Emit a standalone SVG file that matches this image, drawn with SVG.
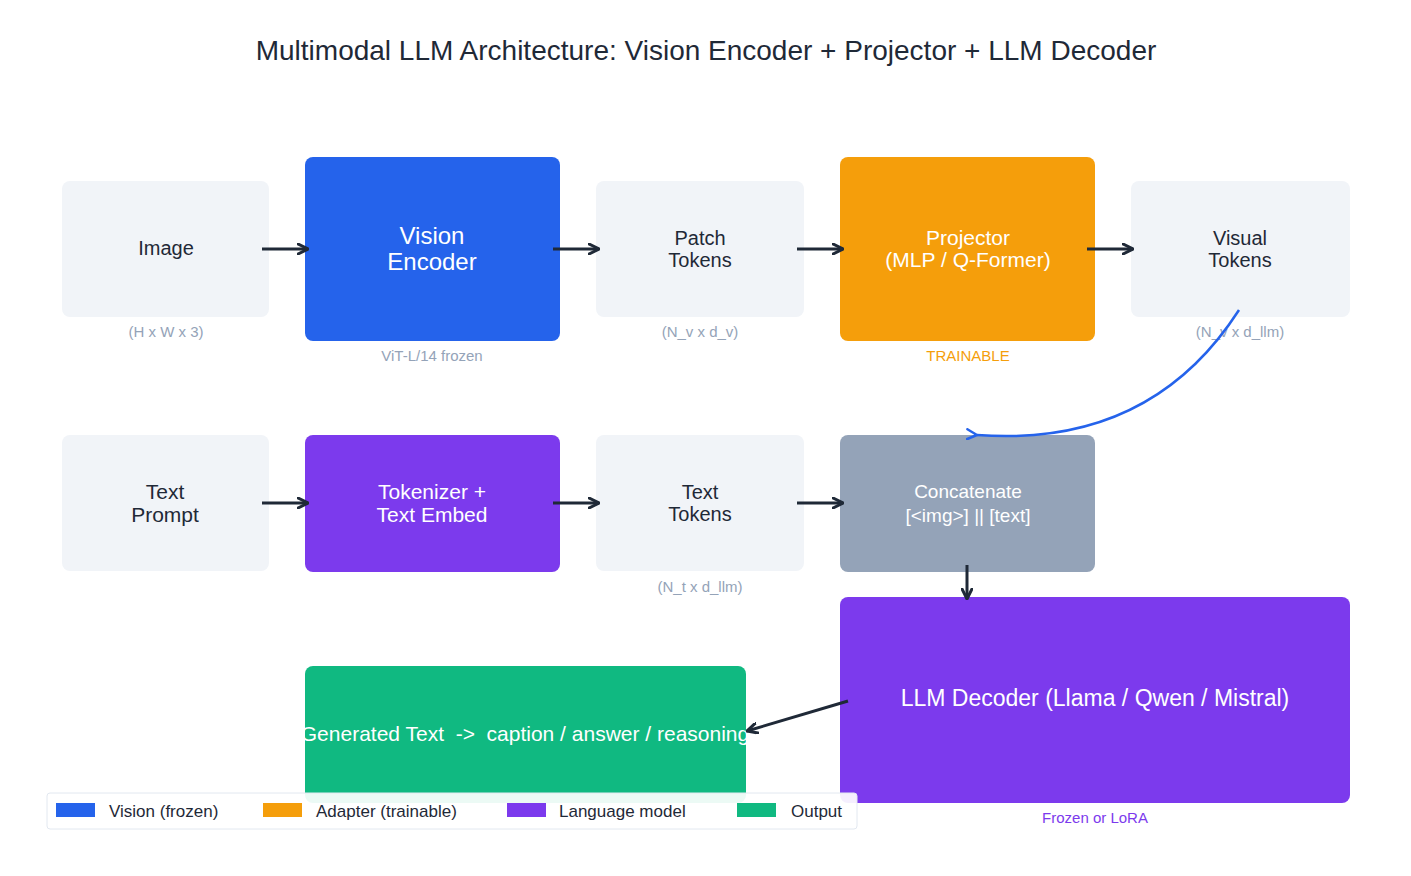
<svg xmlns="http://www.w3.org/2000/svg" width="1411" height="876" viewBox="0 0 1411 876">
<style>
text{font-family:"Liberation Sans",Arial,sans-serif}
.light{fill:#f1f4f8}
.dk{fill:#1f2937;font-size:20px}
.wt{fill:#ffffff;font-size:20px}
.sub{fill:#94a3b8;font-size:15px}
.ar{stroke:#1f2937;stroke-width:3;fill:none;marker-end:url(#ah)}
.leg{fill:#1f2937;font-size:17px}
</style>
<defs>
<marker id="ah" viewBox="0 0 12 12" refX="11" refY="6" markerWidth="12" markerHeight="12" markerUnits="userSpaceOnUse" orient="auto"><path d="M1,1 L11,6 L1,11" fill="none" stroke="#1f2937" stroke-width="3" stroke-linecap="round"/></marker>
<marker id="ahb" viewBox="0 0 12 12" refX="1" refY="6" markerWidth="12" markerHeight="12" markerUnits="userSpaceOnUse" orient="auto"><path d="M11,1 L1,6 L11,11" fill="none" stroke="#2563eb" stroke-width="2.5" stroke-linecap="round"/></marker>
<clipPath id="gc"><rect x="305" y="666" width="441" height="137"/></clipPath>
</defs>
<rect width="1411" height="876" fill="#fff"/>
<text x="706" y="60" text-anchor="middle" font-size="28" fill="#1f2937">Multimodal LLM Architecture: Vision Encoder + Projector + LLM Decoder</text>

<g id="image"><rect class="light" x="62" y="181" width="207" height="136" rx="8"/><text class="dk" x="166" y="255" text-anchor="middle">Image</text><text class="sub" x="166" y="337" text-anchor="middle">(H x W x 3)</text></g>
<g id="vision-encoder"><rect fill="#2563eb" x="305" y="157" width="255" height="184" rx="8"/><text class="wt" font-size="24" x="432" y="244" text-anchor="middle" style="font-size:24px">Vision</text><text class="wt" x="432" y="270" text-anchor="middle" style="font-size:24px">Encoder</text><text class="sub" x="432" y="361" text-anchor="middle">ViT-L/14 frozen</text></g>
<g id="patch-tokens"><rect class="light" x="596" y="181" width="208" height="136" rx="8"/><text class="dk" x="700" y="245" text-anchor="middle">Patch</text><text class="dk" x="700" y="267" text-anchor="middle">Tokens</text><text class="sub" x="700" y="337" text-anchor="middle">(N_v x d_v)</text></g>
<g id="projector"><rect fill="#f59e0b" x="840" y="157" width="255" height="184" rx="8"/><text class="wt" x="968" y="245" text-anchor="middle" style="font-size:21px">Projector</text><text class="wt" x="968" y="267" text-anchor="middle" style="font-size:21px">(MLP / Q-Former)</text><text x="968" y="361" text-anchor="middle" font-size="15" fill="#f59e0b">TRAINABLE</text></g>
<g id="visual-tokens"><rect class="light" x="1131" y="181" width="219" height="136" rx="8"/><text class="dk" x="1240" y="245" text-anchor="middle">Visual</text><text class="dk" x="1240" y="267" text-anchor="middle">Tokens</text><text class="sub" x="1240" y="337" text-anchor="middle">(N_v x d_llm)</text></g>

<g id="text-prompt"><rect class="light" x="62" y="435" width="207" height="136" rx="8"/><text class="dk" x="165" y="499" text-anchor="middle" style="font-size:21px">Text</text><text class="dk" x="165" y="522" text-anchor="middle" style="font-size:21px">Prompt</text></g>
<g id="tokenizer"><rect fill="#7c3aed" x="305" y="435" width="255" height="137" rx="8"/><text class="wt" x="432" y="499" text-anchor="middle" style="font-size:21px">Tokenizer +</text><text class="wt" x="432" y="522" text-anchor="middle" style="font-size:21px">Text Embed</text></g>
<g id="text-tokens"><rect class="light" x="596" y="435" width="208" height="136" rx="8"/><text class="dk" x="700" y="499" text-anchor="middle">Text</text><text class="dk" x="700" y="521" text-anchor="middle">Tokens</text><text class="sub" x="700" y="592" text-anchor="middle">(N_t x d_llm)</text></g>
<g id="concatenate"><rect fill="#94a3b8" x="840" y="435" width="255" height="137" rx="8"/><text class="wt" x="968" y="498" text-anchor="middle" style="font-size:19px">Concatenate</text><text class="wt" x="968" y="522" text-anchor="middle" style="font-size:19px">[&lt;img&gt;] || [text]</text></g>
<g id="llm-decoder"><rect fill="#7c3aed" x="840" y="597" width="510" height="206" rx="8"/><text class="wt" x="1095" y="706" text-anchor="middle" style="font-size:23px">LLM Decoder (Llama / Qwen / Mistral)</text><text x="1095" y="823" text-anchor="middle" font-size="15" fill="#7c3aed">Frozen or LoRA</text></g>
<g id="generated-text"><rect fill="#10b981" x="305" y="666" width="441" height="137" rx="8"/><text class="wt" clip-path="url(#gc)" x="525" y="741" text-anchor="middle" xml:space="preserve" style="font-size:21px;white-space:pre">Generated Text  -&gt;  caption / answer / reasoning</text></g>

<g id="connectors">
<line class="ar" x1="262" y1="249" x2="308" y2="249"/>
<line class="ar" x1="553" y1="249" x2="599" y2="249"/>
<line class="ar" x1="797" y1="249" x2="843" y2="249"/>
<line class="ar" x1="1087" y1="249" x2="1133" y2="249"/>
<path d="M1239,310 Q1150,448 977,435" fill="none" stroke="#2563eb" stroke-width="2.5" marker-start="url(#ahb)" transform="" style="marker-start:none;marker-end:url(#ahb)"/>
<line class="ar" x1="262" y1="503" x2="308" y2="503"/>
<line class="ar" x1="553" y1="503" x2="599" y2="503"/>
<line class="ar" x1="797" y1="503" x2="843" y2="503"/>
<line class="ar" x1="967" y1="565" x2="967" y2="599"/>
<line class="ar" x1="848" y1="701" x2="747" y2="731"/>
</g>

<g id="legend">
<rect x="47" y="793" width="810" height="36" rx="3" fill="#fff" fill-opacity="0.92" stroke="#e2e8f0"/>
<rect x="56" y="803" width="39" height="14" fill="#2563eb"/><text class="leg" x="109" y="817">Vision (frozen)</text>
<rect x="263" y="803" width="39" height="14" fill="#f59e0b"/><text class="leg" x="316" y="817">Adapter (trainable)</text>
<rect x="507" y="803" width="39" height="14" fill="#7c3aed"/><text class="leg" x="559" y="817">Language model</text>
<rect x="737" y="803" width="39" height="14" fill="#10b981"/><text class="leg" x="791" y="817">Output</text>
</g>
</svg>
